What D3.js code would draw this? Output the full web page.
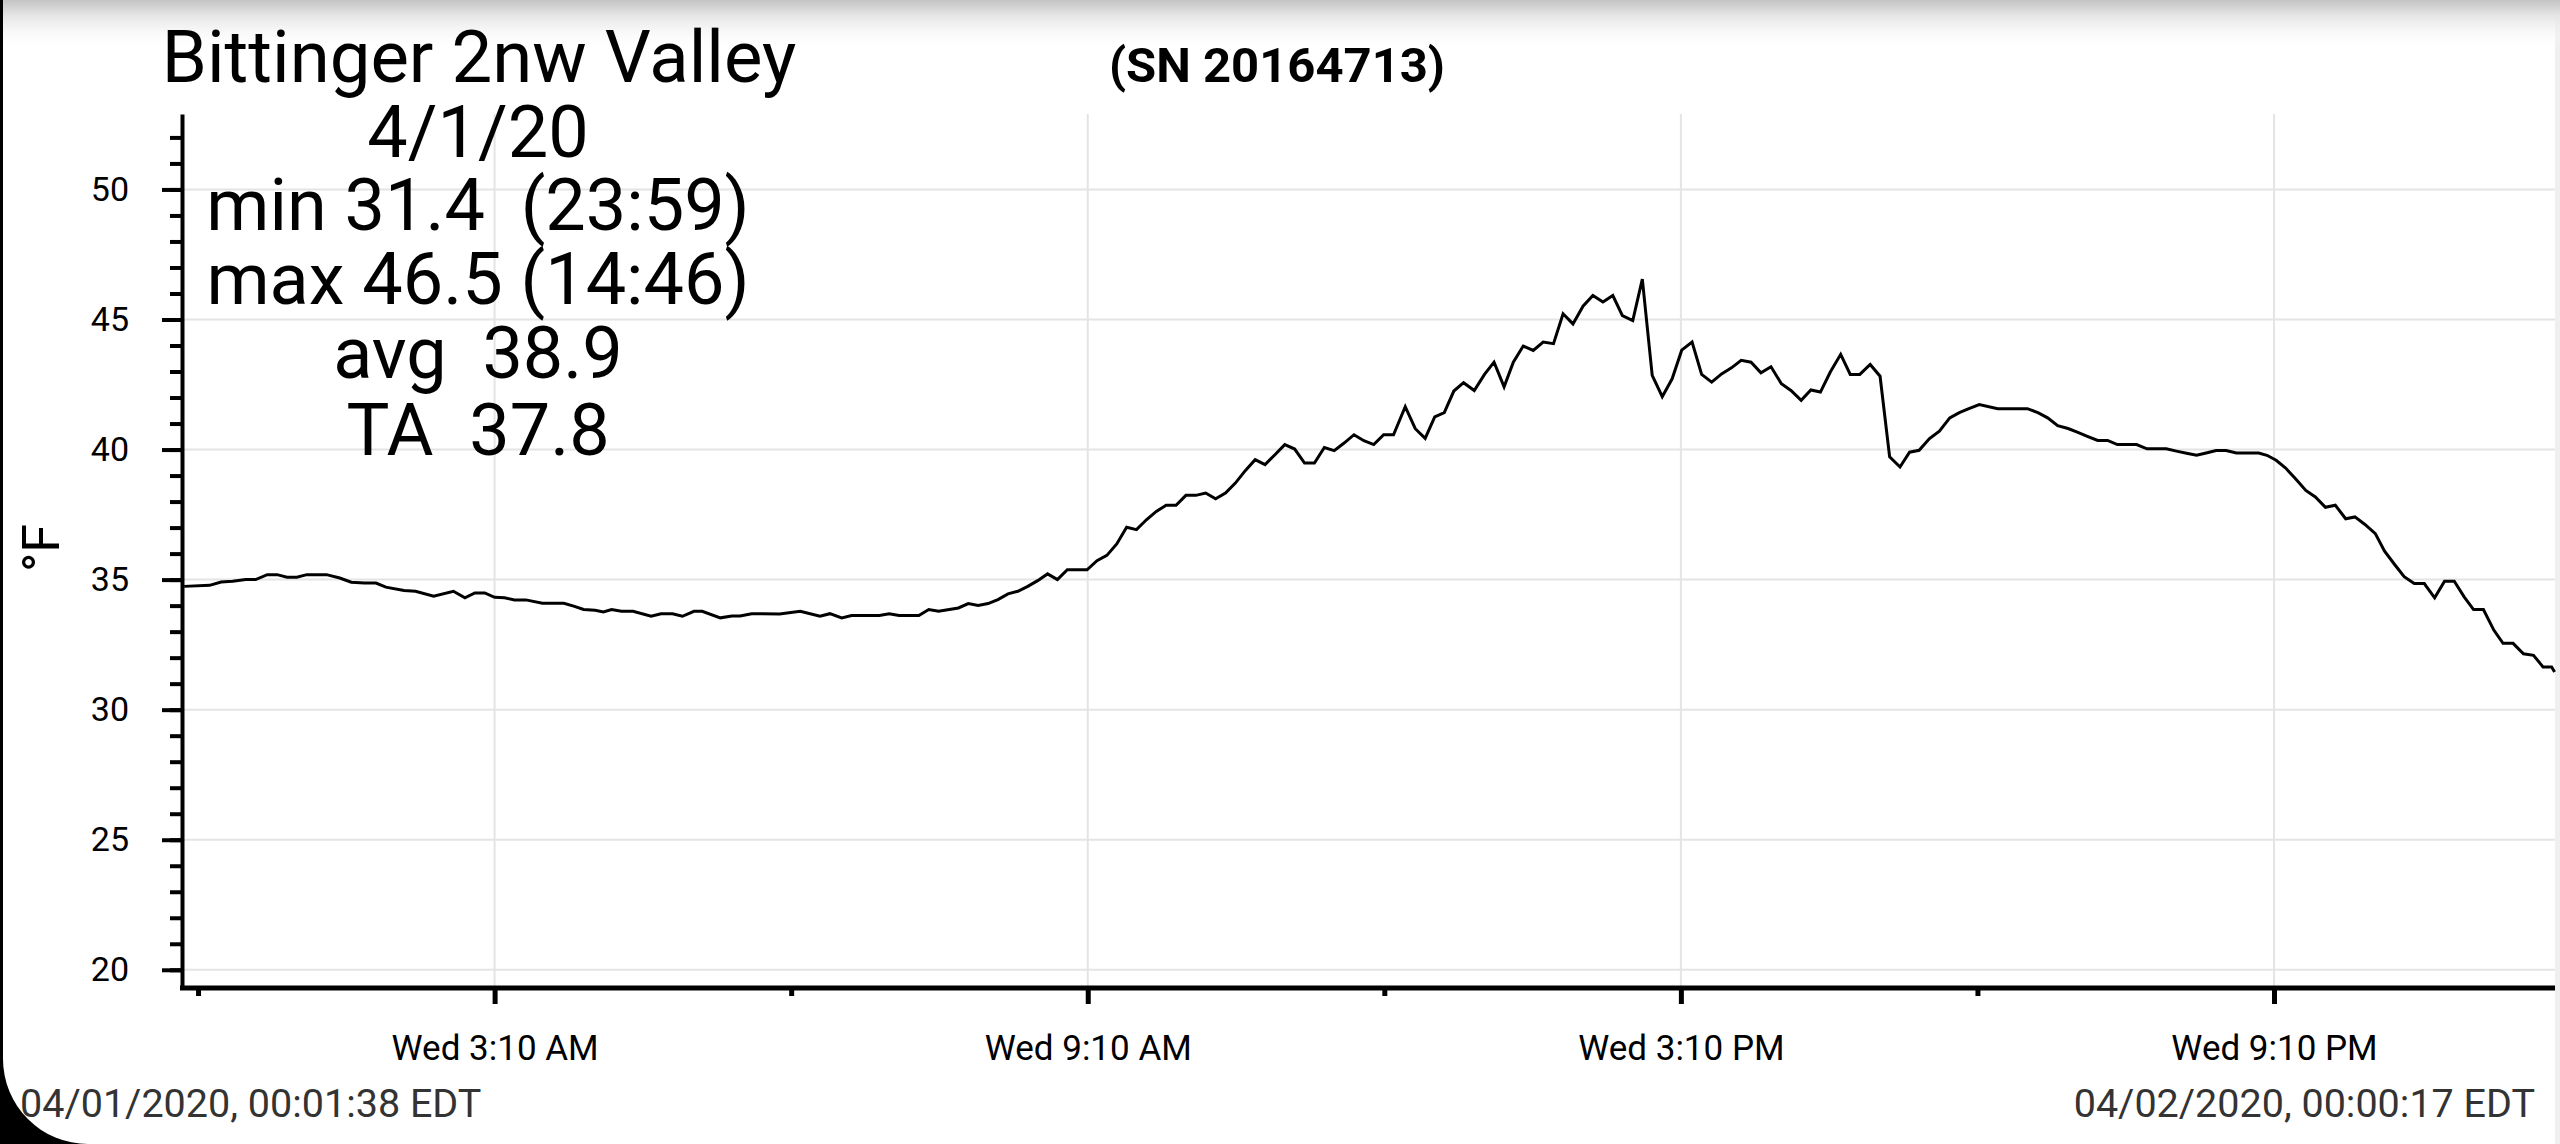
<!DOCTYPE html>
<html>
<head>
<meta charset="utf-8">
<title>Bittinger 2nw Valley</title>
<script src="https://cdn.jsdelivr.net/npm/d3@7"></script>
<style>
  html, body { margin: 0; padding: 0; background: #000; overflow: hidden; }
  svg text { font-family: Roboto, "Noto Sans", sans-serif; white-space: pre; }
</style>
</head>
<body>
<div id="chart"></div>
<script>
// ---- data (minutes after midnight, deg F) ----
const sampleMinutes = [
  1.6, 17, 24, 31, 39, 45, 52, 58, 64, 70, 76, 88, 96, 103, 111, 118, 124, 135, 142, 153,
  165, 172, 178, 184, 190, 196, 202, 209, 219, 232, 238, 244, 251, 256, 261, 267, 274, 285,
  291, 298, 304, 311, 316, 327, 334, 339, 346, 363,
  375.5, 387.5, 393.5, 400.7, 406.7, 423.5, 429.5, 435.5, 447.5, 453.5, 459.5, 471.5, 477.5,
  483.5, 489.5, 495.5, 501.6, 507.6, 513.6, 519.6, 525.6, 531.6, 537.6, 549.6, 555.6, 561.6,
  567.6, 573.6, 579.6, 585.6, 591.6, 597.6, 603.6, 609.6, 615.6, 621.6, 627.6, 633.6, 639.6,
  645.6, 651.6, 657.6, 663.6, 669.6, 675.6, 681.6, 687.6, 693.6, 699.6, 705.6, 711.6, 717.6,
  723.6, 729.6, 735.6,
  742.7, 748.8, 754.8, 760.6, 766.4, 772.2, 778.1, 784.6, 790.8, 796.6, 802.7, 808.3, 814.3,
  820.4, 826.4, 832.7, 838.5, 844.5, 850.6, 856.6, 862.7, 868.7, 874.5, 880.8, 886.6, 892.6,
  898.7, 904.7, 910.5, 916.8, 922.6, 928.7, 934.7, 940.7, 946.6, 952.6, 958.6, 964.7, 971,
  976.8, 983, 988.9, 994.7, 1000.7, 1007, 1012.8, 1018.6, 1024.9, 1030.9, 1036.7, 1043,
  1048.8, 1054.6, 1060.9, 1066.9, 1073.2, 1079, 1084.8, 1091.1,
  1102.3, 1120.3, 1127, 1132.6, 1138.7, 1145, 1150.6, 1156.7, 1163, 1169, 1174.9, 1186.6,
  1192.9, 1204.6, 1210.8, 1216.9, 1223, 1228.8, 1234.9, 1240.9, 1247.2, 1260.7, 1265.7,
  1271.3, 1276.9, 1283.2, 1289.3, 1295.1, 1301.2, 1307.2, 1313.5, 1319.1, 1325.2, 1331.5,
  1337.1, 1343.2, 1349, 1355.1, 1361.2, 1367.5, 1373.5, 1379.4, 1385.4, 1391.1, 1397.1,
  1403.4, 1409, 1415.1, 1421.4, 1427.5, 1433.3, 1438.5, 1440.3
];
const tempF = [
  34.74, 34.78, 34.91, 34.94, 35.0, 35.0, 35.19, 35.19, 35.09, 35.09, 35.19, 35.19, 35.06,
  34.9, 34.87, 34.87, 34.71, 34.58, 34.55, 34.36, 34.55, 34.3, 34.49, 34.49, 34.32, 34.3,
  34.22, 34.22, 34.09, 34.09, 33.98, 33.85, 33.82, 33.76, 33.85, 33.78, 33.78, 33.59, 33.69,
  33.69, 33.59, 33.78, 33.78, 33.53, 33.6, 33.6, 33.69, 33.68,
  33.78, 33.59, 33.69, 33.53, 33.62, 33.62, 33.69, 33.62, 33.62, 33.85, 33.78, 33.91, 34.08,
  34.01, 34.08, 34.23, 34.45, 34.55, 34.74, 34.96, 35.22, 35.0, 35.38, 35.38, 35.73, 35.93,
  36.37, 37.01, 36.92, 37.3, 37.62, 37.86, 37.86, 38.24, 38.24, 38.33, 38.11, 38.33, 38.71,
  39.19, 39.61, 39.42, 39.8, 40.19, 40.02, 39.48, 39.48, 40.08, 39.96, 40.25, 40.57, 40.34,
  40.19, 40.57, 40.57,
  41.65, 40.8, 40.43, 41.26, 41.42, 42.25, 42.57, 42.27, 42.89, 43.36, 42.41, 43.36, 43.98,
  43.81, 44.13, 44.07, 45.22, 44.83, 45.51, 45.92, 45.67, 45.92, 45.15, 44.96, 46.55, 42.85,
  42.03, 42.72, 43.82, 44.13, 42.89, 42.59, 42.91, 43.14, 43.43, 43.36, 42.95, 43.18, 42.53,
  42.27, 41.89, 42.29, 42.21, 42.98, 43.66, 42.89, 42.89, 43.27, 42.82, 39.72, 39.33,
  39.9, 39.97, 40.42, 40.71, 41.22, 41.42, 41.57, 41.73,
  41.57, 41.57, 41.41, 41.22, 40.92, 40.81, 40.67, 40.51, 40.35, 40.35, 40.19, 40.19,
  40.03, 40.03, 39.94, 39.86, 39.78, 39.87, 39.96, 39.96, 39.87, 39.87, 39.78,
  39.59, 39.3, 38.87, 38.43, 38.18, 37.78, 37.86, 37.34, 37.41, 37.12, 36.77,
  36.09, 35.58, 35.11, 34.85, 34.85, 34.3, 34.94, 34.94, 34.34, 33.85, 33.85,
  33.06, 32.55, 32.55, 32.15, 32.09, 31.64, 31.64, 31.45
];

const yDomain = [19.3, 52.9];
const yMajorTicks = [20, 25, 30, 35, 40, 45, 50];
const yMinorTicks = d3.range(20, 53, 1);
const xMajorTickMinutes = [190, 550, 910, 1270];   // 3:10, 9:10, 15:10, 21:10
const xMinorTickMinutes = [10, 370, 730, 1090];    // 0:10, 6:10, 12:10, 18:10

const titleText = "Bittinger 2nw Valley";
const serialText = "(SN 20164713)";
const statLines = ["4/1/20", "min 31.4  (23:59)", "max 46.5 (14:46)", "avg  38.9", "TA  37.8"];
const startLabel = "04/01/2020, 00:01:38 EDT";
const endLabel = "04/02/2020, 00:00:17 EDT";
const unitLabel = "°F";

(function() {
  'use strict';

  const width = 2560;
  const height = 1144;
  const plot = { left: 182, x0: 184.2, x1: 2554.6, right: 2555, top: 114, bottom: 988 };

  const day0 = Date.UTC(2020, 3, 1);
  const toDate = m => new Date(day0 + m * 60000);

  const series = sampleMinutes.map((m, i) => ({ date: toDate(m), value: tempF[i] }));

  const svg = d3.select("#chart")
    .append("svg")
    .attr("width", width)
    .attr("height", height)
    .attr("viewBox", [0, 0, width, height])
    .style("display", "block");

  // page card with rounded bottom-left corner (screenshot frame)
  svg.append("path")
    .attr("d", `M3,0H${width}V${height}H88A85,85 0 0 1 3,${height - 85}Z`)
    .attr("fill", "#fff");
  svg.append("rect")
    .attr("x", width - 5).attr("y", 0)
    .attr("width", 5).attr("height", height)
    .attr("fill", "#efefef");

  const defs = svg.append("defs");
  const grad = defs.append("linearGradient")
    .attr("id", "topShade").attr("x1", 0).attr("y1", 0).attr("x2", 0).attr("y2", 1);
  grad.append("stop").attr("offset", "0%").attr("stop-color", "#c4c4c4");
  grad.append("stop").attr("offset", "30%").attr("stop-color", "#e4e4e4");
  grad.append("stop").attr("offset", "100%").attr("stop-color", "#fff").attr("stop-opacity", 0);
  svg.append("rect")
    .attr("x", 3).attr("y", 0)
    .attr("width", width - 3).attr("height", 50)
    .attr("fill", "url(#topShade)");

  // scales
  const x = d3.scaleUtc()
    .domain([toDate(sampleMinutes[0]), toDate(sampleMinutes[sampleMinutes.length - 1])])
    .range([plot.x0, plot.x1]);

  const y = d3.scaleLinear()
    .domain(yDomain)
    .range([plot.bottom, plot.top]);

  // grid
  const grid = svg.append("g").attr("stroke", "#e4e4e4").attr("stroke-width", 2);
  grid.selectAll("line.h")
    .data(yMajorTicks)
    .join("line")
    .attr("class", "h")
    .attr("x1", plot.left).attr("x2", plot.right)
    .attr("y1", d => y(d)).attr("y2", d => y(d));
  grid.selectAll("line.v")
    .data(xMajorTickMinutes.map(toDate))
    .join("line")
    .attr("class", "v")
    .attr("x1", d => x(d)).attr("x2", d => x(d))
    .attr("y1", plot.top).attr("y2", plot.bottom);

  // temperature line
  const line = d3.line()
    .x(d => x(d.date))
    .y(d => y(d.value));

  svg.append("path")
    .datum(series)
    .attr("d", line)
    .attr("fill", "none")
    .attr("stroke", "#000")
    .attr("stroke-width", 3);

  // y axis: minor ticks every degree, labelled major ticks every 5
  const yMinor = svg.append("g")
    .attr("transform", `translate(${plot.left},0)`)
    .call(d3.axisLeft(y).tickValues(yMinorTicks).tickSize(12).tickSizeOuter(0).tickFormat(""));
  yMinor.select(".domain").attr("stroke-width", 4);
  yMinor.selectAll(".tick line").attr("stroke-width", 4);

  const yMajor = svg.append("g")
    .attr("transform", `translate(${plot.left},0)`)
    .call(d3.axisLeft(y).tickValues(yMajorTicks).tickSize(20).tickSizeOuter(0).tickPadding(33));
  yMajor.select(".domain").remove();
  yMajor.selectAll(".tick line").attr("stroke-width", 4);
  yMajor.selectAll(".tick text")
    .attr("font-size", 34)
    .attr("fill", "#000");

  // x axis
  const xMinor = svg.append("g")
    .attr("transform", `translate(0,${plot.bottom})`)
    .call(d3.axisBottom(x).tickValues(xMinorTickMinutes.map(toDate)).tickSize(8).tickSizeOuter(0).tickFormat(""));
  xMinor.select(".domain")
    .attr("d", `M${plot.left - 2},0H${plot.right}`)
    .attr("stroke-width", 5);
  xMinor.selectAll(".tick line").attr("stroke-width", 5);

  const xMajor = svg.append("g")
    .attr("transform", `translate(0,${plot.bottom})`)
    .call(d3.axisBottom(x)
      .tickValues(xMajorTickMinutes.map(toDate))
      .tickSize(16)
      .tickSizeOuter(0)
      .tickPadding(31)
      .tickFormat(d3.utcFormat("%a %-I:%M %p")));
  xMajor.select(".domain").remove();
  xMajor.selectAll(".tick line").attr("stroke-width", 5);
  xMajor.selectAll(".tick text")
    .attr("font-size", 35)
    .attr("fill", "#000");

  // unit label
  svg.append("text")
    .attr("transform", "translate(59,548) rotate(-90)")
    .attr("text-anchor", "middle")
    .attr("font-size", 52)
    .attr("fill", "#000")
    .text(unitLabel);

  // header texts
  svg.append("text")
    .attr("x", 479).attr("y", 82)
    .attr("text-anchor", "middle")
    .attr("font-size", 72.5)
    .attr("fill", "#000")
    .text(titleText);

  svg.append("text")
    .attr("x", 1277).attr("y", 82)
    .attr("text-anchor", "middle")
    .attr("font-size", 49)
    .attr("font-weight", "bold")
    .attr("fill", "#000")
    .text(serialText);

  const statBaselines = [157, 230, 304, 378, 455];
  svg.append("g")
    .selectAll("text")
    .data(statLines)
    .join("text")
    .attr("x", 478)
    .attr("y", (d, i) => statBaselines[i])
    .attr("text-anchor", "middle")
    .attr("font-size", 72)
    .attr("fill", "#000")
    .text(d => d);

  // start / end timestamps
  svg.append("text")
    .attr("x", 20).attr("y", 1117)
    .attr("font-size", 39.5)
    .attr("fill", "#333")
    .text(startLabel);

  svg.append("text")
    .attr("x", 2535).attr("y", 1117)
    .attr("text-anchor", "end")
    .attr("font-size", 39.5)
    .attr("fill", "#333")
    .text(endLabel);
})();
</script>
</body>
</html>
